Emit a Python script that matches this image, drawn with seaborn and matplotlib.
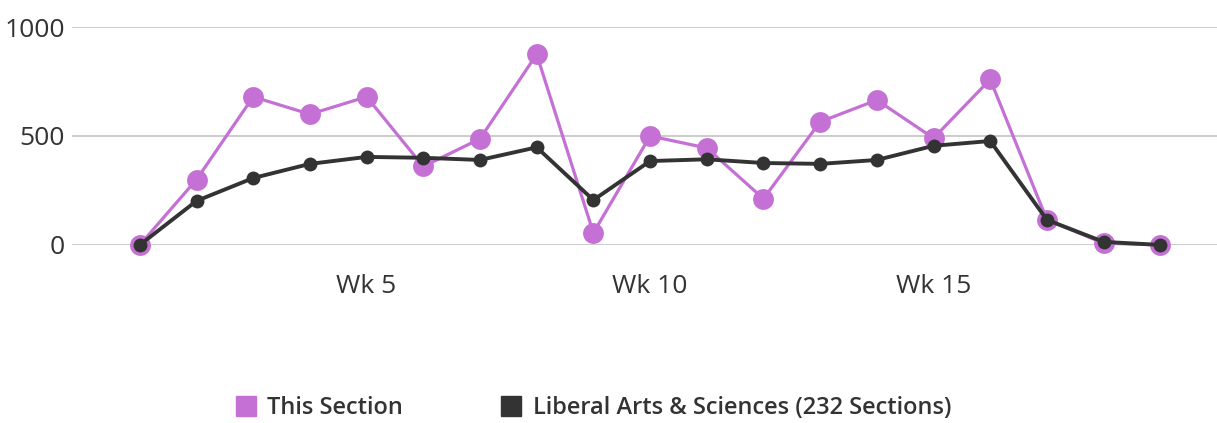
import pandas as pd
import matplotlib
matplotlib.use("Agg")
import matplotlib.pyplot as plt
from matplotlib.lines import Line2D
import seaborn as sns

# weekly values
weeks = list(range(1, 20))
this_section = [0, 300, 680, 600, 680, 360, 487, 875, 55, 500, 445, 212, 565, 665, 490, 760, 115, 8, 0]
las_sections = [0, 202, 307, 372, 404, 400, 390, 448, 206, 385, 393, 376, 372, 390, 455, 477, 115, 14, 0]
tick_weeks = [5, 10, 15]
tick_labels = ["Wk 5", "Wk 10", "Wk 15"]
y_ticks = [0, 500, 1000]
series_names = ["This Section", "Liberal Arts & Sciences (232 Sections)"]

purple = "#c470d4"
dark = "#333333"

df = pd.DataFrame({"week": weeks, "this": this_section, "las": las_sections})

sns.set_theme(style="white")
plt.rcParams["font.family"] = ["Open Sans", "DejaVu Sans"]

fig = plt.figure(figsize=(12.17, 4.23), dpi=100)
ax = fig.add_axes([0.059, 0.421, 0.941, 0.515])

sns.lineplot(data=df, x="week", y="this", ax=ax, color=purple, linewidth=2.3,
             marker="o", markersize=15, markeredgewidth=0, clip_on=False, zorder=3)
sns.lineplot(data=df, x="week", y="las", ax=ax, color=dark, linewidth=2.8,
             marker="o", markersize=10, markeredgewidth=0, clip_on=False, zorder=4)

ax.set_xlim(-0.2, 20.0)
ax.set_ylim(0, 1000)
ax.set_xticks(tick_weeks)
ax.set_xticklabels(tick_labels)
ax.set_yticks(y_ticks)
ax.set_yticklabels([str(v) for v in y_ticks])
ax.set_xlabel("")
ax.set_ylabel("")
ax.grid(axis="y", color="#cccccc", linewidth=1.4)
ax.grid(axis="x", visible=False)
for s in ax.spines.values():
    s.set_visible(False)
ax.tick_params(axis="both", length=0, labelsize=19, colors="#333333")
ax.tick_params(axis="x", pad=21)
ax.tick_params(axis="y", pad=5)

handles = [
    Line2D([], [], linestyle="none", marker="s", markersize=15, color=purple),
    Line2D([], [], linestyle="none", marker="s", markersize=15, color=dark),
]
leg = fig.legend(handles, series_names, loc="center", bbox_to_anchor=(0.482, 0.035),
                 ncol=2, frameon=False, handletextpad=-0.1, columnspacing=3.6,
                 prop={"size": 17, "weight": "semibold"})
for t in leg.get_texts():
    t.set_color("#333333")

fig.savefig("out.png", dpi=100)
